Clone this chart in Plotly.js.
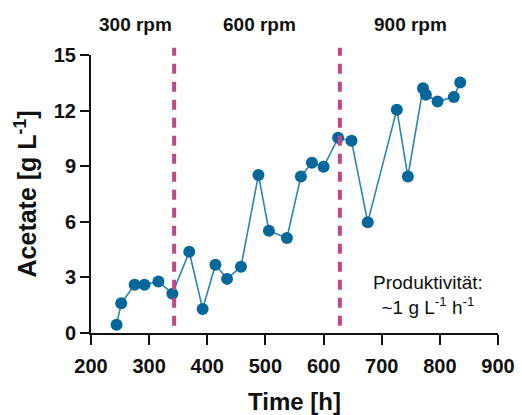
<!DOCTYPE html>
<html>
<head>
<meta charset="utf-8">
<script src="https://cdn.plot.ly/plotly-3.0.1.min.js"></script>
<style>html,body{margin:0;padding:0;background:#fff;}#chart{width:522px;height:415px;}</style>
</head>
<body>
<div id="chart"></div>
<script>
const timeH = [244, 252, 275, 292, 316, 340, 369, 392, 414, 434, 458, 488, 506, 537, 561, 580, 600, 625, 648, 676, 726, 745, 771, 776, 796, 824, 835];
const acetate = [0.45, 1.6, 2.6, 2.6, 2.78, 2.12, 4.38, 1.3, 3.68, 2.92, 3.58, 8.53, 5.52, 5.13, 8.45, 9.18, 8.97, 10.53, 10.37, 5.98, 12.05, 8.44, 13.2, 12.85, 12.49, 12.74, 13.52];
const switchTimes = [343, 628];
const phaseLabels = ['300 rpm', '600 rpm', '900 rpm'];
const phaseLabelX = [276, 490, 750];
const xTicks = [200, 300, 400, 500, 600, 700, 800, 900];
const yTicks = [0, 3, 6, 9, 12, 15];

const FONT = 'Arial, "Liberation Sans", sans-serif';

const trace = {
  x: timeH, y: acetate, type: 'scatter', mode: 'lines+markers',
  line: {color: '#2a84b4', width: 1.6},
  marker: {color: '#06679a', size: 12},
  cliponaxis: false, hoverinfo: 'skip'
};

const shapes = switchTimes.map(t => ({
  type: 'line', xref: 'x', yref: 'paper', x0: t, x1: t, y0: 0.026, y1: 1.026,
  line: {color: '#c0488a', width: 4, dash: '10px,8px'}
}));

const annotations = phaseLabels.map((s, i) => ({
  text: '<b>' + s + '</b>', x: phaseLabelX[i], xref: 'x', y: 1.11, yref: 'paper',
  showarrow: false, xanchor: 'center', yanchor: 'middle',
  font: {family: FONT, size: 19, color: '#111'}
}));
annotations.push({
  text: 'Produktivität:<br>~1 g L<sup>-1</sup> h<sup>-1</sup>',
  x: 779, xref: 'x', y: 2.05, yref: 'y', showarrow: false,
  xanchor: 'center', yanchor: 'middle', align: 'center',
  font: {family: FONT, size: 19, color: '#111'}
});

const layout = {
  width: 522, height: 415,
  margin: {l: 91, r: 24, t: 55, b: 82},
  paper_bgcolor: '#fff', plot_bgcolor: '#fff',
  showlegend: false,
  font: {family: FONT, color: '#111'},
  xaxis: {
    range: [200, 900], tickvals: xTicks, ticktext: xTicks.map(String),
    showgrid: false, zeroline: false, showline: true, linecolor: '#111', linewidth: 2,
    ticks: 'outside', ticklen: 10, tickwidth: 2, tickcolor: '#111',
    ticklabelstandoff: 4,
    tickfont: {family: FONT, size: 20, color: '#111', weight: 'bold'},
    title: {text: '<b>Time [h]</b>', font: {family: FONT, size: 24, color: '#111'}, standoff: 20}
  },
  yaxis: {
    range: [0, 15], tickvals: yTicks, ticktext: yTicks.map(String),
    showgrid: false, zeroline: false, showline: true, linecolor: '#111', linewidth: 2,
    ticks: 'outside', ticklen: 9, tickwidth: 2, tickcolor: '#111',
    tickfont: {family: FONT, size: 20, color: '#111', weight: 'bold'},
    title: {text: '<b>Acetate [g L<sup>-1</sup>]</b>', font: {family: FONT, size: 25, color: '#111'}, standoff: 10}
  },
  shapes: shapes,
  annotations: annotations
};

Plotly.newPlot('chart', [trace], layout, {displayModeBar: false, staticPlot: true});
</script>
</body>
</html>
